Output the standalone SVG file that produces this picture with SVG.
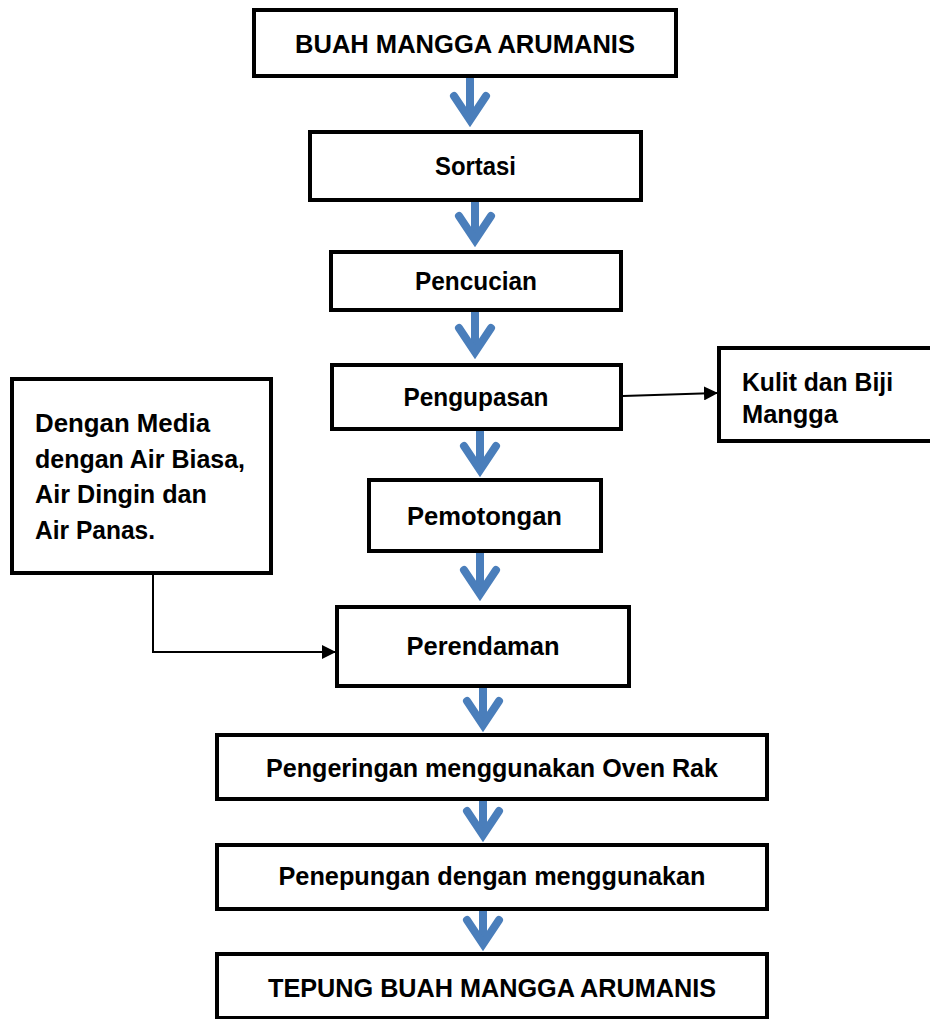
<svg xmlns="http://www.w3.org/2000/svg" width="930" height="1019" viewBox="0 0 930 1019">
<defs>
<style>
.box{fill:#fff;stroke:#000;stroke-width:4}
.t{font-family:"Liberation Sans",Arial,sans-serif;font-weight:bold;font-size:26px;fill:#000}
.c{text-anchor:middle}
.flow{fill:none;stroke:#4A7EBB;stroke-width:8;stroke-linecap:round;stroke-linejoin:miter}
.shaft{fill:none;stroke:#4A7EBB;stroke-width:8}
.link{fill:none;stroke:#000;stroke-width:2}
</style>
<marker id="ah" markerUnits="userSpaceOnUse" markerWidth="14" markerHeight="14" refX="13" refY="7" orient="auto">
<path d="M0,0 L14,7 L0,14 Z" fill="#000"/>
</marker>
</defs>
<rect width="930" height="1019" fill="#fff"/>
<g id="connectors">
<path class="shaft" d="M470 78 V120"/><path class="flow" d="M454 96 L470 120 L486 96"/>
<path class="shaft" d="M475 202 V240"/><path class="flow" d="M459 216 L475 240 L491 216"/>
<path class="shaft" d="M475 312 V352"/><path class="flow" d="M459 328 L475 352 L491 328"/>
<path class="shaft" d="M480 431 V470"/><path class="flow" d="M464 446 L480 470 L496 446"/>
<path class="shaft" d="M480 553 V594"/><path class="flow" d="M464 570 L480 594 L496 570"/>
<path class="shaft" d="M483 688 V725"/><path class="flow" d="M467 701 L483 725 L499 701"/>
<path class="shaft" d="M483 801 V835"/><path class="flow" d="M467 811 L483 835 L499 811"/>
<path class="shaft" d="M483 911 V944"/><path class="flow" d="M467 920 L483 944 L499 920"/>
<path class="link" d="M623 396 L717 393" marker-end="url(#ah)"/>
<path class="link" d="M153 575 V652 H335" marker-end="url(#ah)"/>
</g>
<g id="n1"><rect class="box" x="254" y="10" width="422" height="66"/><text class="t c" x="465" y="53" textLength="340" lengthAdjust="spacingAndGlyphs">BUAH MANGGA ARUMANIS</text></g>
<g id="n2"><rect class="box" x="310" y="132" width="331" height="68"/><text class="t c" x="475.5" y="175" textLength="81" lengthAdjust="spacingAndGlyphs">Sortasi</text></g>
<g id="n3"><rect class="box" x="331" y="252" width="290" height="58"/><text class="t c" x="476" y="290" textLength="122" lengthAdjust="spacingAndGlyphs">Pencucian</text></g>
<g id="n4"><rect class="box" x="332" y="365" width="289" height="64"/><text class="t c" x="476" y="406" textLength="145" lengthAdjust="spacingAndGlyphs">Pengupasan</text></g>
<g id="n5"><rect class="box" x="719" y="348" width="240" height="93"/><text class="t" x="742" y="391" textLength="151" lengthAdjust="spacingAndGlyphs">Kulit dan Biji</text><text class="t" x="742" y="423" textLength="96" lengthAdjust="spacingAndGlyphs">Mangga</text></g>
<g id="n6"><rect class="box" x="12" y="379" width="259" height="194"/>
<text class="t" x="35" y="432" textLength="175" lengthAdjust="spacingAndGlyphs">Dengan Media</text>
<text class="t" x="35" y="468" textLength="210" lengthAdjust="spacingAndGlyphs">dengan Air Biasa,</text>
<text class="t" x="35" y="503" textLength="172" lengthAdjust="spacingAndGlyphs">Air Dingin dan</text>
<text class="t" x="35" y="539" textLength="120" lengthAdjust="spacingAndGlyphs">Air Panas.</text></g>
<g id="n7"><rect class="box" x="369" y="480" width="232" height="71"/><text class="t c" x="484.5" y="525" textLength="155" lengthAdjust="spacingAndGlyphs">Pemotongan</text></g>
<g id="n8"><rect class="box" x="337" y="607" width="292" height="79"/><text class="t c" x="483" y="655" textLength="153" lengthAdjust="spacingAndGlyphs">Perendaman</text></g>
<g id="n9"><rect class="box" x="217" y="735" width="550" height="64"/><text class="t c" x="492" y="777" textLength="452" lengthAdjust="spacingAndGlyphs">Pengeringan menggunakan Oven Rak</text></g>
<g id="n10"><rect class="box" x="217" y="845" width="550" height="64"/><text class="t c" x="492" y="885" textLength="427" lengthAdjust="spacingAndGlyphs">Penepungan dengan menggunakan</text></g>
<g id="n11"><rect class="box" x="217" y="954" width="550" height="64"/><text class="t c" x="492" y="997" textLength="448" lengthAdjust="spacingAndGlyphs">TEPUNG BUAH MANGGA ARUMANIS</text></g>
</svg>
